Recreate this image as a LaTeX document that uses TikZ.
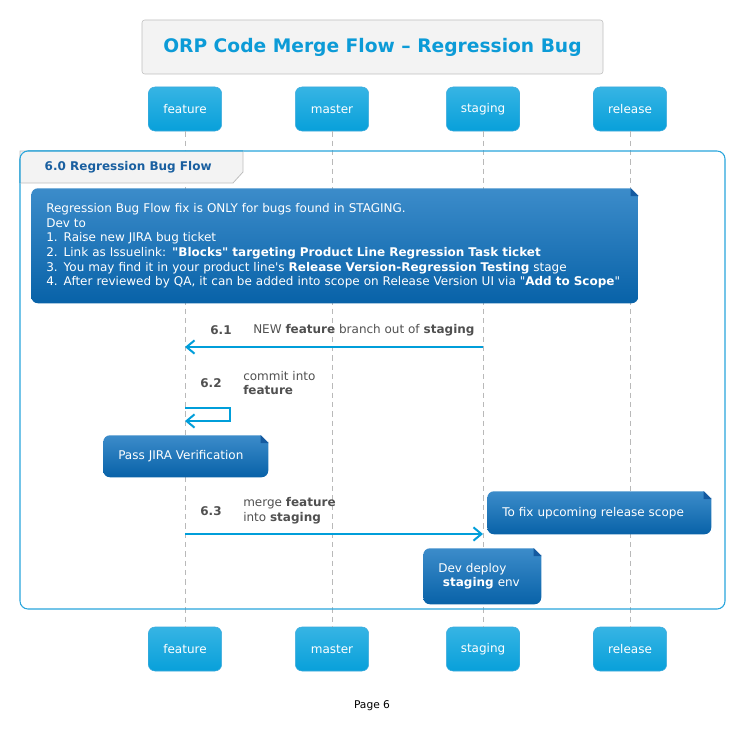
\documentclass[tikz,border=0pt]{standalone}
\usepackage{fontspec}
\setmainfont{DejaVu Sans}
\usepackage{tikz}
\usetikzlibrary{positioning,arrows.meta,shapes,calc}
\usepackage{xcolor}
\definecolor{TitleBlue}{RGB}{12,155,215}
\definecolor{TitleFill}{RGB}{243,243,243}
\definecolor{TitleLine}{RGB}{190,190,190}
\definecolor{PartTop}{RGB}{54,180,228}
\definecolor{PartBottom}{RGB}{8,160,218}
\definecolor{PartLine}{RGB}{60,170,220}
\definecolor{NoteTop}{RGB}{60,140,202}
\definecolor{NoteBottom}{RGB}{8,98,168}
\definecolor{NoteFold}{RGB}{20,90,160}
\definecolor{ArrowBlue}{RGB}{0,158,218}
\definecolor{GroupLine}{RGB}{40,165,220}
\definecolor{GroupText}{RGB}{25,95,160}
\definecolor{MsgText}{RGB}{80,80,80}

\newcommand{\notefold}[1]{%
  \fill[white] ($(#1.north east)+(-8,0)$) -- (#1.north east) -- ($(#1.north east)+(0,8)$) -- cycle;
  \fill[NoteFold] ($(#1.north east)+(-8,0)$) -- ($(#1.north east)+(-8,8)$) -- ($(#1.north east)+(0,8)$) -- cycle;}

\begin{document}
\begin{tikzpicture}[
    x=0.75pt, y=-0.75pt,
    title/.style={rectangle, rounded corners=2pt, draw=TitleLine, fill=TitleFill,
        minimum width=345.75pt, minimum height=40.5pt, text=TitleBlue,
        font=\fontsize{14}{17}\selectfont\bfseries},
    participant/.style={rectangle, rounded corners=5pt, draw=PartLine, top color=PartTop,
        bottom color=PartBottom, minimum width=55pt, minimum height=33pt, text=white, font=\small},
    lifeline/.style={draw=gray!55, dashed, dash pattern=on 4pt off 3pt, line width=0.5pt},
    note/.style={rectangle, rounded corners=5pt, top color=NoteTop, bottom color=NoteBottom,
        text=white, font=\small, align=left, anchor=north west, inner xsep=0pt},
    msg/.style={-{Straight Barb[length=6pt, width=10pt, line width=1.5pt]}, line width=2.2pt, ArrowBlue},
    num/.style={font=\small\bfseries, text=MsgText},
    msgtext/.style={font=\small, text=MsgText, align=left, anchor=west, inner sep=0pt},
]
\useasboundingbox (0,0) rectangle (736,749);

\node[title] (title) at (372.5,47) {ORP Code Merge Flow – Regression Bug};

\node[participant] (pf) at (185,109) {feature};
\node[participant] (pm) at (332,109) {master};
\node[participant] (ps) at (483,109) {staging};
\node[participant] (pr) at (630,109) {release};
\node[participant] (pfb) at (185,649) {feature};
\node[participant] (pmb) at (332,649) {master};
\node[participant] (psb) at (483,649) {staging};
\node[participant] (prb) at (630,649) {release};

\draw[lifeline] (pf) -- (pfb);
\draw[lifeline] (pm) -- (pmb);
\draw[lifeline] (ps) -- (psb);
\draw[lifeline] (pr) -- (prb);

\draw[GroupLine, line width=0.8pt, rounded corners=6pt] (20,151) rectangle (725,609);
\draw[TitleLine, fill=TitleFill, line width=0.6pt] (20,151) -- (243,151) -- (243,172) -- (233,183) -- (20,183) -- cycle;
\draw[GroupLine, line width=0.8pt, rounded corners=6pt] (20,183) -- (20,151) -- (243,151);
\node[font=\small\bfseries, text=GroupText, anchor=west] (glabel) at (40,167) {6.0 Regression Bug Flow};

\node[note, minimum width=455.25pt, minimum height=86.25pt, text width=432.75pt] (bignote) at (31,188)
  {Regression Bug Flow fix is ONLY for bugs found in STAGING.\\
   Dev to\\
   1. Raise new JIRA bug ticket\\
   2. Link as Issuelink: \textbf{\textquotedbl Blocks\textquotedbl{} targeting Product Line Regression Task ticket}\\
   3. You may find it in your product line\textquotesingle s \textbf{Release Version-Regression Testing} stage\\
   4. After reviewed by QA, it can be added into scope on Release Version UI via \textquotedbl\textbf{Add to Scope}\textquotedbl};
\notefold{bignote}

\coordinate (f61) at (185,347);
\coordinate (s61) at (483,347);
\draw[msg] (s61) -- (f61);
\node[num] (n61) at (221,330) {6.1};
\node[msgtext] (t61) at (253,330) {NEW \textbf{feature} branch out of \textbf{staging}};

\coordinate (f62a) at (185,408);
\coordinate (f62b) at (185,421);
\draw[msg] (f62a) -- ++(45,0) -- ++(0,13) -- (f62b);
\node[num] (n62) at (211,383) {6.2};
\node[msgtext] (t62) at (243,383) {commit into\\\textbf{feature}};

\node[note, minimum width=123.75pt, minimum height=31.5pt, text width=101.25pt] (jira) at (103,435) {Pass JIRA Verification};
\notefold{jira}

\coordinate (f63) at (185,534);
\coordinate (s63) at (483,534);
\draw[msg] (f63) -- (s63);
\node[num] (n63) at (211,511) {6.3};
\node[msgtext] (t63) at (243,511) {merge \textbf{feature}\\into \textbf{staging}};

\node[note, minimum width=168pt, minimum height=32.25pt, text width=145.5pt] (scope) at (487,491) {To fix upcoming release scope};
\notefold{scope}

\node[note, minimum width=88.5pt, minimum height=42pt, text width=66pt] (deploy) at (423,548) {Dev deploy\\\hspace{3.5pt}\textbf{staging} env};
\notefold{deploy}

\node[font=\footnotesize] (page) at (372,706) {Page 6};
\end{tikzpicture}
\end{document}
